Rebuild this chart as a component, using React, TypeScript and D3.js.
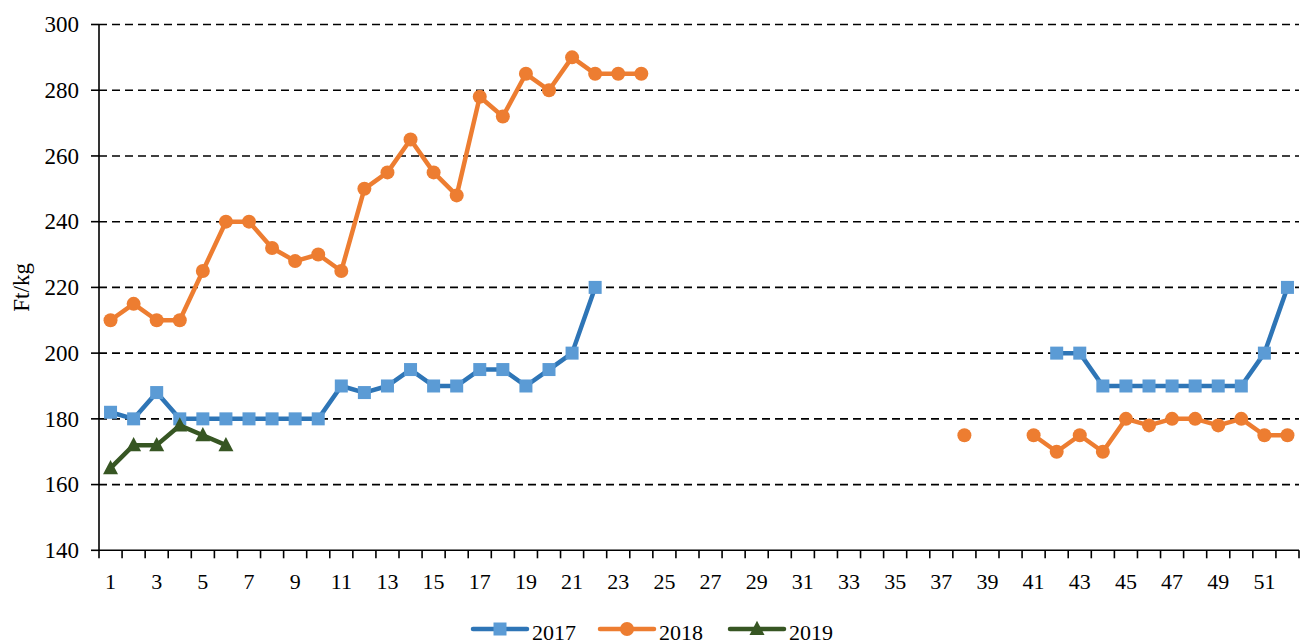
import React from "react";
import * as d3 from "d3";

// weekly price, Ft/kg
const weeks = d3.range(1, 53);
const tickWeeks = weeks.filter(w => w % 2 === 1);
const yTicks = [140, 160, 180, 200, 220, 240, 260, 280, 300];

const y2017 = [
  182, 180, 188, 180, 180, 180, 180, 180, 180, 180, 190, 188, 190, 195, 190, 190, 195, 195, 190, 195, 200, 220,
  null, null, null, null, null, null, null, null, null, null, null, null, null, null, null, null, null, null, null,
  200, 200, 190, 190, 190, 190, 190, 190, 190, 200, 220,
];
const y2018 = [
  210, 215, 210, 210, 225, 240, 240, 232, 228, 230, 225, 250, 255, 265, 255, 248, 278, 272, 285, 280, 290, 285, 285, 285,
  null, null, null, null, null, null, null, null, null, null, null, null, null,
  175, null, null,
  175, 170, 175, 170, 180, 178, 180, 180, 178, 180, 175, 175,
];
const y2019 = [165, 172, 172, 178, 175, 172];

const series = [
  { name: "2017", values: y2017, line: "#2E75B6", fill: "#5B9BD5", marker: "square" },
  { name: "2018", values: y2018, line: "#ED7D31", fill: "#ED7D31", marker: "circle" },
  { name: "2019", values: y2019, line: "#375623", fill: "#375623", marker: "triangle" },
];

const W = 1301, H = 644;
const left = 99, right = 1299, top = 24.5, bottom = 550.3;
const font = "'Liberation Serif', 'Times New Roman', serif";

function Marker({ kind, x, y, fill }) {
  if (kind === "square") return <rect x={x - 6.5} y={y - 6.5} width={13} height={13} fill={fill} />;
  if (kind === "circle") return <circle cx={x} cy={y} r={7} fill={fill} />;
  const s = 15;
  return <path d={`M${x},${y - s * 0.55}L${x + s / 2},${y + s * 0.4}L${x - s / 2},${y + s * 0.4}Z`} fill={fill} />;
}

export default function App() {
  const x = d3.scaleBand().domain(weeks).range([left, right]).padding(0);
  const cx = w => x(w) + x.bandwidth() / 2;
  const y = d3.scaleLinear().domain([140, 300]).range([bottom, top]);

  const line = d3.line()
    .defined(d => d.v != null)
    .x(d => cx(d.w))
    .y(d => y(d.v));

  const legendX = [473, 600, 730];

  return (
    <svg width={W} height={H} style={{ position: "absolute", left: 0, top: 0, background: "#fff" }} fontFamily={font}>
      {/* grid */}
      {yTicks.filter(t => t > 140).map(t => (
        <line key={t} x1={left} x2={right} y1={y(t)} y2={y(t)} stroke="#000" strokeWidth={1.6} strokeDasharray="8,5" />
      ))}
      {/* y axis */}
      <line x1={left} x2={left} y1={top} y2={bottom} stroke="#000" strokeWidth={1.6} />
      {yTicks.map(t => (
        <g key={t}>
          <line x1={left - 8} x2={left} y1={y(t)} y2={y(t)} stroke="#000" strokeWidth={1.6} />
          <text x={79} y={y(t)} dy="0.34em" textAnchor="end" fontSize={23} fill="#000">{t}</text>
        </g>
      ))}
      <text transform={`translate(29,${(top + bottom) / 2}) rotate(-90)`} textAnchor="middle" fontSize={23} fill="#000">Ft/kg</text>
      {/* x axis */}
      <line x1={left} x2={right} y1={bottom} y2={bottom} stroke="#000" strokeWidth={1.6} />
      {weeks.map(w => (
        <line key={w} x1={x(w)} x2={x(w)} y1={bottom} y2={bottom + 8} stroke="#000" strokeWidth={1.6} />
      ))}
      <line x1={right} x2={right} y1={bottom} y2={bottom + 8} stroke="#000" strokeWidth={1.6} />
      {tickWeeks.map(w => (
        <text key={w} x={cx(w)} y={589} textAnchor="middle" fontSize={22} fill="#000">{w}</text>
      ))}
      {/* series */}
      {series.map(s => {
        const pts = s.values.map((v, i) => ({ w: weeks[i], v }));
        return (
          <g key={s.name}>
            <path d={line(pts)} fill="none" stroke={s.line} strokeWidth={4.5} strokeLinejoin="round" />
            {pts.filter(p => p.v != null).map(p => (
              <Marker key={p.w} kind={s.marker} x={cx(p.w)} y={y(p.v)} fill={s.fill} />
            ))}
          </g>
        );
      })}
      {/* legend */}
      {series.map((s, i) => (
        <g key={s.name} transform={`translate(${legendX[i]},629)`}>
          <line x1={0} x2={54} y1={0} y2={0} stroke={s.line} strokeWidth={4.5} strokeLinecap="round" />
          <Marker kind={s.marker} x={27} y={0} fill={s.fill} />
          <text x={59} y={11} fontSize={22} fill="#000">{s.name}</text>
        </g>
      ))}
    </svg>
  );
}
